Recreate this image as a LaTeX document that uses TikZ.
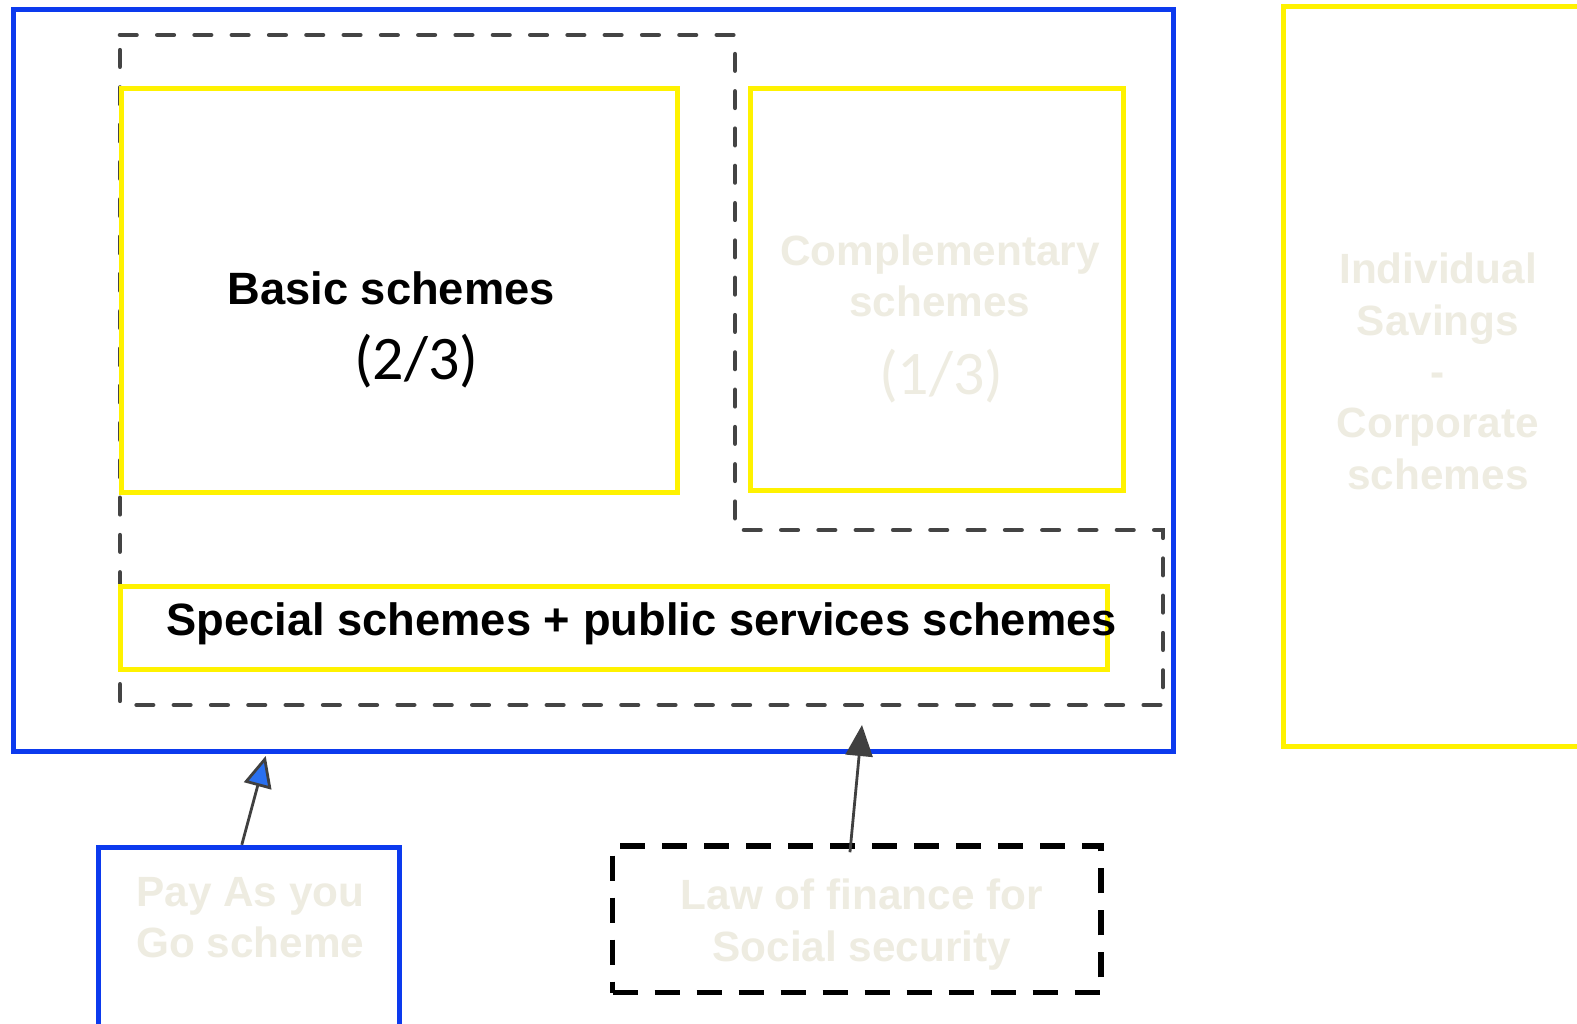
\documentclass[tikz,border=0pt]{standalone}
\usepackage{fontspec}
\usetikzlibrary{arrows.meta}
\setmainfont{Liberation Sans}
\newfontfamily\calfont{Carlito}
\definecolor{outerblue}{RGB}{12,58,238}
\definecolor{dashgray}{RGB}{68,68,68}
\definecolor{fadetext}{RGB}{238,236,225}
\definecolor{tipblue}{RGB}{42,112,240}
\definecolor{linegray}{RGB}{64,64,64}
\tikzset{
  bluebox/.style={draw=outerblue, line width=5pt, inner sep=0pt},
  yelbox/.style={draw=yellow, line width=5pt, inner sep=0pt},
  groupline/.style={draw=dashgray, line width=4.6pt, line cap=round, dash pattern=on 16.5pt off 20.8pt},
  lawbox/.style={draw=black, line width=5.5pt, dash pattern=on 25pt off 17pt, inner sep=0pt},
  darktxt/.style={font=\bfseries\fontsize{45.3}{51.3}\selectfont, text=black, inner sep=0pt, anchor=base},
  fadetxt/.style={font=\bfseries\fontsize{42.3}{51.3}\selectfont, text=fadetext, inner sep=0pt, align=center, anchor=base},
  fracdark/.style={font=\calfont\fontsize{62}{62}\selectfont, text=black, inner sep=0pt, anchor=base},
  fracfade/.style={font=\calfont\fontsize{62}{62}\selectfont, text=fadetext, inner sep=0pt, anchor=base},
  conn/.style={draw=linegray, line width=2.8pt},
}
\begin{document}
\begin{tikzpicture}[x=1pt,y=-1pt]
\useasboundingbox (0,0) rectangle (1577,1024);
\fill[white] (0,0) rectangle (1577,1024);
% outer frame
\node[bluebox, minimum width=1160pt, minimum height=741pt] (outer) at (593,380.5) {};
% dashed grouping outline
\draw[groupline] (120,35) -- (735,35) -- (735,530) -- (1163,530) -- (1163,705) -- (120,705) -- cycle;
% yellow boxes
\node[yelbox, minimum width=556pt, minimum height=403.5pt] (basicbox) at (399,290.25) {};
\node[yelbox, minimum width=373pt, minimum height=401.5pt] (complbox) at (936.5,289.25) {};
\node[yelbox, minimum width=987pt, minimum height=83pt] (specialbox) at (613.5,627.5) {};
\node[yelbox, minimum width=357pt, minimum height=739.5pt] (indivbox) at (1461.5,376.75) {};
% bottom boxes
\node[bluebox, minimum width=301pt, minimum height=212.7pt] (pay) at (248.8,953.65) {};
\node[lawbox, minimum width=488.7pt, minimum height=146.8pt] (law) at (856.85,919.2) {};
% texts
\node[darktxt] (basic) at (391.2,304.7) {Basic schemes};
\node[fracdark] (basicfrac) at (416.4,379) {(2/3)};
\node[fadetxt] (compl) at (940,317) {Complementary\\schemes};
\node[fracfade] (complfrac) at (941.3,394.2) {(1/3)};
\node[darktxt] (special) at (641.6,635.6) {Special schemes + public services schemes};
\node[fadetxt] (indiv) at (1438,489) {Individual\\Savings\\-\\Corporate\\schemes};
\node[fadetxt] (payg) at (250.4,957.3) {Pay As you\\Go scheme};
\node[fadetxt] (lawtxt) at (861.9,961) {Law of finance for\\Social security};
% connectors
\coordinate (paytip) at (265.7,756);
\coordinate (lawtip) at (862,725);
\draw[conn, -{Triangle[length=31pt, width=28pt, fill=tipblue]}] ([xshift=-7pt]pay.north) -- (paytip);
\draw[conn, -{Triangle[length=31pt, width=27pt, fill=linegray]}] ([shift={(-6.9pt,-9.2pt)}]law.north) -- (lawtip);
\end{tikzpicture}
\end{document}
